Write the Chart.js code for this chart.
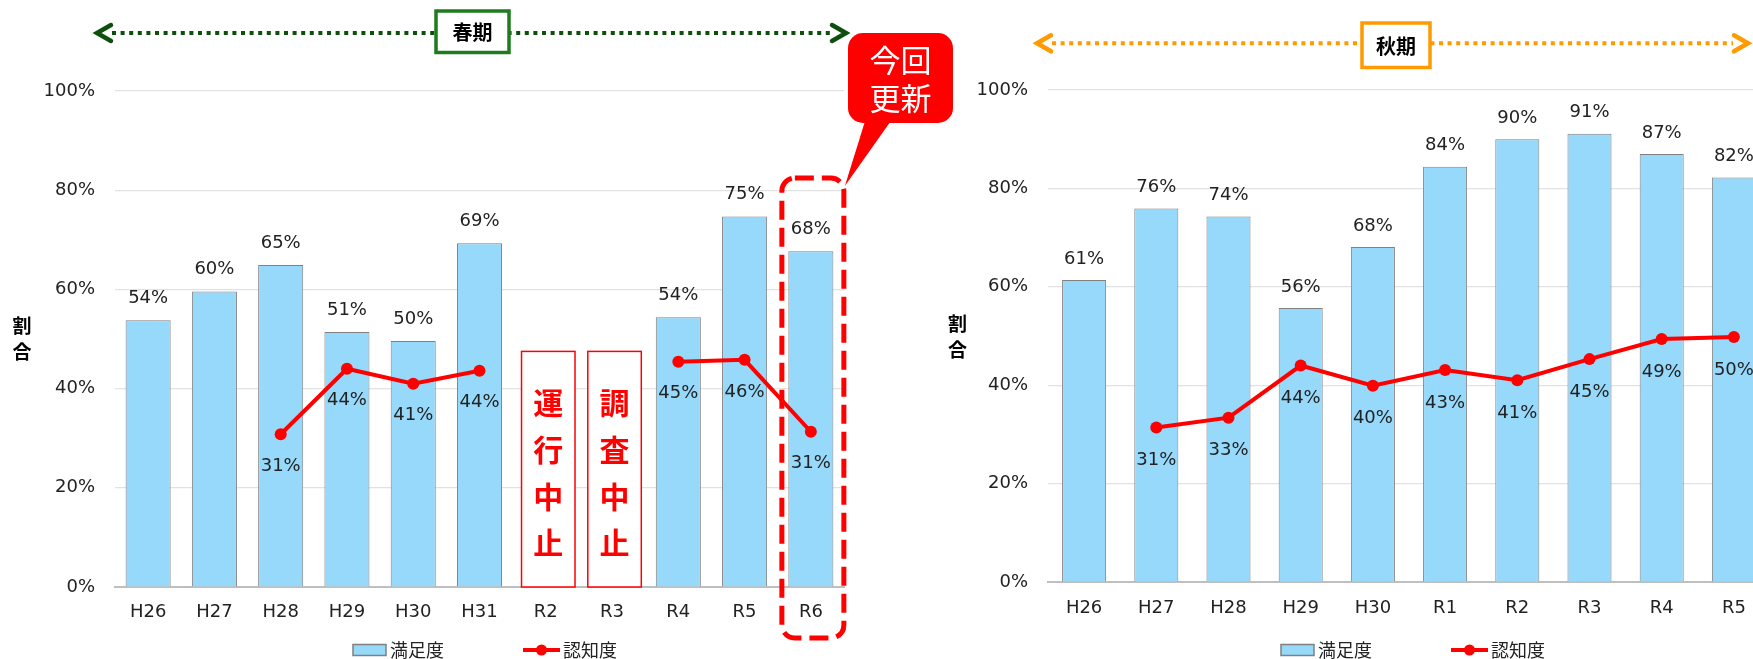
<!DOCTYPE html>
<html lang="ja">
<head>
<meta charset="utf-8">
<script src="https://cdn.jsdelivr.net/npm/chart.js@4.4.1/dist/chart.umd.min.js"></script>
<style>
  html, body { margin:0; padding:0; background:#fff; width:1753px; height:659px; overflow:hidden; }
  canvas { position:absolute; top:0; }
</style>
</head>
<body>
<canvas id="autumn" width="960" height="659" style="left:900px;z-index:1"></canvas>
<canvas id="spring" width="1000" height="659" style="left:0px;z-index:2"></canvas>
<script>
// ---------------- data ----------------
const springCategories = ['H26','H27','H28','H29','H30','H31','R2','R3','R4','R5','R6'];
const springSatisfaction = [53.8, 59.6, 64.9, 51.4, 49.6, 69.3, null, null, 54.4, 74.7, 67.7];
const springAwareness    = [null, null, 30.8, 44.0, 41.0, 43.6, null, null, 45.4, 45.8, 31.3];

const autumnCategories = ['H26','H27','H28','H29','H30','R1','R2','R3','R4','R5'];
const autumnSatisfaction = [61.4, 75.9, 74.3, 55.7, 68.1, 84.4, 90.0, 91.1, 87.0, 82.2];
const autumnAwareness    = [null, 31.4, 33.4, 44.0, 39.9, 43.1, 41.0, 45.3, 49.4, 49.8];

const yTickValues = [0, 20, 40, 60, 80, 100];
const seriesNames = ['満足度', '認知度'];
const axisTitle = ['割', '合'];
const periodNames = ['春期', '秋期'];
const suspendedNotes = ['運行中止', '調査中止'];
const suspendedIndexes = [6, 7];
const calloutText = ['今回', '更新'];

// ---------------- styles ----------------
const BAR_FILL = '#97d9fb';
const BAR_BORDER = '#808080';
const LINE_RED = '#ff0000';
const NUM_FONT = '"DejaVu Sans", "Noto Sans CJK JP", sans-serif';
const JP_FONT = '"Noto Sans CJK JP", "DejaVu Sans", sans-serif';
Chart.defaults.font.family = NUM_FONT;
Chart.defaults.color = '#222';

function roundRect(ctx, x, y, w, h, r) {
  ctx.beginPath();
  ctx.moveTo(x + r, y);
  ctx.lineTo(x + w - r, y);
  ctx.arcTo(x + w, y, x + w, y + r, r);
  ctx.lineTo(x + w, y + h - r);
  ctx.arcTo(x + w, y + h, x + w - r, y + h, r);
  ctx.lineTo(x + r, y + h);
  ctx.arcTo(x, y + h, x, y + h - r, r);
  ctx.lineTo(x, y + r);
  ctx.arcTo(x, y, x + r, y, r);
  ctx.closePath();
}

function drawValueLabels(chart, barOff, lineOff) {
  const ctx = chart.ctx;
  ctx.save();
  ctx.font = '18px ' + NUM_FONT;
  ctx.fillStyle = '#222';
  ctx.textAlign = 'center';
  ctx.textBaseline = 'middle';
  chart.data.datasets.forEach((ds, i) => {
    const meta = chart.getDatasetMeta(i);
    meta.data.forEach((el, j) => {
      const v = ds.data[j];
      if (v === null || v === undefined) return;
      const off = ds.type === 'line' ? lineOff : barOff;
      ctx.fillText(Math.round(v) + '%', el.x, el.y + off);
    });
  });
  ctx.restore();
}

function drawAxisTitle(ctx, x, y1, y2) {
  ctx.save();
  ctx.font = 'bold 19px ' + JP_FONT;
  ctx.fillStyle = '#000';
  ctx.textAlign = 'center';
  ctx.textBaseline = 'middle';
  ctx.fillText(axisTitle[0], x, y1);
  ctx.fillText(axisTitle[1], x, y2);
  ctx.restore();
}

function drawLegend(ctx, x0, y) {
  ctx.save();
  ctx.fillStyle = BAR_FILL;
  ctx.fillRect(x0, y - 5.5, 33, 11);
  ctx.strokeStyle = BAR_BORDER;
  ctx.lineWidth = 1.5;
  ctx.strokeRect(x0, y - 5.5, 33, 11);
  ctx.font = '18px ' + JP_FONT;
  ctx.fillStyle = '#222';
  ctx.textAlign = 'left';
  ctx.textBaseline = 'middle';
  ctx.fillText(seriesNames[0], x0 + 37, y);
  const lx = x0 + 170;
  ctx.strokeStyle = LINE_RED;
  ctx.lineWidth = 4;
  ctx.beginPath(); ctx.moveTo(lx, y); ctx.lineTo(lx + 37, y); ctx.stroke();
  ctx.fillStyle = LINE_RED;
  ctx.beginPath(); ctx.arc(lx + 18.5, y, 5.5, 0, Math.PI * 2); ctx.fill();
  ctx.fillStyle = '#222';
  ctx.fillText(seriesNames[1], lx + 40, y);
  ctx.restore();
}

function drawPeriodArrow(ctx, x1, x2, y, lineColor, boxColor, bx1, bx2, by1, by2, label) {
  ctx.save();
  ctx.strokeStyle = lineColor;
  ctx.lineWidth = 4;
  ctx.setLineDash([4, 4.6]);
  ctx.beginPath(); ctx.moveTo(x1 + 17, y); ctx.lineTo(x2 - 17, y); ctx.stroke();
  ctx.setLineDash([]);
  ctx.lineWidth = 4.5;
  ctx.lineCap = 'round';
  ctx.lineJoin = 'miter';
  ctx.beginPath(); ctx.moveTo(x1 + 16, y - 8); ctx.lineTo(x1 + 2, y); ctx.lineTo(x1 + 16, y + 8); ctx.stroke();
  ctx.beginPath(); ctx.moveTo(x2 - 16, y - 8); ctx.lineTo(x2 - 2, y); ctx.lineTo(x2 - 16, y + 8); ctx.stroke();
  ctx.fillStyle = '#fff';
  ctx.fillRect(bx1, by1, bx2 - bx1, by2 - by1);
  ctx.strokeStyle = boxColor;
  ctx.lineWidth = 3.5;
  ctx.strokeRect(bx1, by1, bx2 - bx1, by2 - by1);
  ctx.font = 'bold 20px ' + JP_FONT;
  ctx.fillStyle = '#000';
  ctx.textAlign = 'center';
  ctx.textBaseline = 'middle';
  ctx.fillText(label, (bx1 + bx2) / 2, (by1 + by2) / 2 + 1);
  ctx.restore();
}

function commonScales(yWidth, xHeight, xPad) {
  return {
    x: {
      grid: { display: false, drawTicks: false },
      border: { display: true, color: '#bfbfbf', width: 2 },
      ticks: { font: { size: 18 }, color: '#222', padding: xPad, maxRotation: 0, autoSkip: false },
      afterFit: s => { s.height = xHeight; }
    },
    y: {
      min: 0, max: 100,
      afterBuildTicks: s => { s.ticks = yTickValues.map(v => ({ value: v })); },
      ticks: { font: { size: 18 }, color: '#222', padding: 20, callback: v => v + '%' },
      grid: { color: '#e2e2e2', lineWidth: 1.2, drawTicks: false },
      border: { display: false },
      afterFit: s => { s.width = yWidth; }
    }
  };
}

function datasets(sat, aw, barPct) {
  return [
    {
      type: 'line', label: seriesNames[1], data: aw, order: 0,
      borderColor: LINE_RED, backgroundColor: LINE_RED, borderWidth: 4,
      pointRadius: 6, pointBackgroundColor: LINE_RED, pointBorderWidth: 0,
      spanGaps: false, tension: 0
    },
    {
      type: 'bar', label: seriesNames[0], data: sat, order: 1,
      backgroundColor: BAR_FILL, borderColor: BAR_BORDER, borderWidth: 1,
      categoryPercentage: 1, barPercentage: barPct
    }
  ];
}

// ---------------- spring chart ----------------
const springPlugin = {
  id: 'springDecor',
  beforeDatasetsDraw(chart) {
    const ctx = chart.ctx, xs = chart.scales.x, ys = chart.scales.y;
    ctx.save();
    suspendedIndexes.forEach((idx, k) => {
      const cx = xs.getPixelForValue(idx) + 2.5;
      const top = ys.getPixelForValue(47.5), bot = ys.getPixelForValue(0);
      const w = 53.5;
      ctx.fillStyle = '#fff';
      ctx.fillRect(cx - w / 2, top, w, bot - top);
      ctx.strokeStyle = LINE_RED;
      ctx.lineWidth = 1.5;
      ctx.strokeRect(cx - w / 2, top, w, bot - top);
      ctx.font = 'bold 30px ' + JP_FONT;
      ctx.fillStyle = LINE_RED;
      ctx.textAlign = 'center';
      ctx.textBaseline = 'middle';
      const chars = Array.from(suspendedNotes[k]);
      const ys0 = [403, 450, 497, 543];
      chars.forEach((c, n) => ctx.fillText(c, cx, ys0[n]));
    });
    ctx.restore();
  },
  afterDraw(chart) {
    const ctx = chart.ctx, xs = chart.scales.x;
    drawValueLabels(chart, -22, 32);
    drawAxisTitle(ctx, 22, 326, 352);
    drawLegend(ctx, 353, 650);
    drawPeriodArrow(ctx, 95, 848, 33, '#0d4f0d', '#1e7b1e', 436, 509, 11, 52.5, periodNames[0]);
    const cx = xs.getPixelForValue(springCategories.length - 1) + 2;
    ctx.save();
    ctx.strokeStyle = LINE_RED;
    ctx.lineWidth = 5;
    ctx.setLineDash([19, 8]);
    roundRect(ctx, cx - 31, 178, 62, 460, 13);
    ctx.stroke();
    ctx.setLineDash([]);
    ctx.fillStyle = LINE_RED;
    roundRect(ctx, 848, 33, 105, 90, 15);
    ctx.fill();
    ctx.beginPath();
    ctx.moveTo(866, 118); ctx.lineTo(893, 118); ctx.lineTo(cx + 32, 186); ctx.closePath();
    ctx.fill();
    ctx.font = '31px ' + JP_FONT;
    ctx.fillStyle = '#fff';
    ctx.textAlign = 'center';
    ctx.textBaseline = 'middle';
    ctx.fillText(calloutText[0], 900.5, 60);
    ctx.fillText(calloutText[1], 900.5, 98);
    ctx.restore();
  }
};

new Chart(document.getElementById('spring'), {
  type: 'bar',
  data: { labels: springCategories, datasets: datasets(springSatisfaction, springAwareness, 0.68) },
  options: {
    responsive: false, animation: false, devicePixelRatio: 1,
    layout: { padding: { top: 91, right: 156, left: 0, bottom: 0 } },
    plugins: { legend: { display: false }, tooltip: { enabled: false } },
    scales: commonScales(115, 72, 15)
  },
  plugins: [springPlugin]
});

// ---------------- autumn chart ----------------
const autumnPlugin = {
  id: 'autumnDecor',
  afterDraw(chart) {
    const ctx = chart.ctx;
    drawValueLabels(chart, -21, 33);
    drawAxisTitle(ctx, 57.5, 324, 350);
    drawLegend(ctx, 381, 650);
    drawPeriodArrow(ctx, 135, 850, 43.3, '#ff9a00', '#ff9a00', 462, 530, 23, 67.5, periodNames[1]);
  }
};

new Chart(document.getElementById('autumn'), {
  type: 'bar',
  data: { labels: autumnCategories, datasets: datasets(autumnSatisfaction, autumnAwareness, 0.61) },
  options: {
    responsive: false, animation: false, devicePixelRatio: 1,
    layout: { padding: { top: 90, right: 90, left: 0, bottom: 0 } },
    plugins: { legend: { display: false }, tooltip: { enabled: false } },
    scales: commonScales(148, 77, 16)
  },
  plugins: [autumnPlugin]
});
</script>
</body>
</html>
